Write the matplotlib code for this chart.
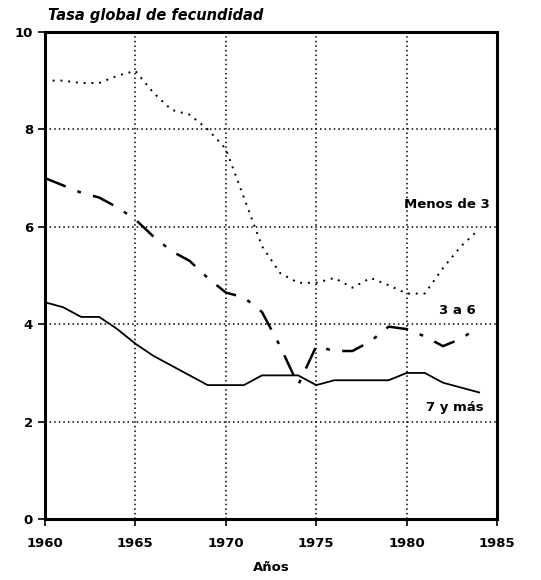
import matplotlib
matplotlib.use("Agg")
import matplotlib.pyplot as plt

years = list(range(1960, 1985))

menos_de_3 = [9.0, 9.0, 8.95, 8.95, 9.1, 9.2, 8.75, 8.4, 8.3, 8.0, 7.6, 6.6,
              5.6, 5.05, 4.85, 4.85, 4.95, 4.75, 4.95, 4.8, 4.63, 4.63, 5.15,
              5.6, 5.95]
tres_a_6 = [7.0, 6.85, 6.7, 6.6, 6.4, 6.15, 5.8, 5.5, 5.3, 4.95, 4.65, 4.55,
            4.25, 3.55, 2.75, 3.55, 3.45, 3.45, 3.65, 3.95, 3.9, 3.75, 3.55,
            3.7, 3.95]
siete_y_mas = [4.45, 4.35, 4.15, 4.15, 3.9, 3.6, 3.35, 3.15, 2.95, 2.75, 2.75,
               2.75, 2.95, 2.95, 2.95, 2.75, 2.85, 2.85, 2.85, 2.85, 3.0, 3.0,
               2.8, 2.7, 2.6]

xticks = [1960, 1965, 1970, 1975, 1980, 1985]
yticks = [0, 2, 4, 6, 8, 10]

plt.rcParams['font.family'] = ['DejaVu Sans']

fig = plt.figure(figsize=(5.41, 5.8), dpi=100, facecolor='white')
ax = fig.add_axes([0.083, 0.105, 0.836, 0.84])

ax.plot(years, menos_de_3, color='black', linestyle=(0, (1, 3)), lw=1.4)
ax.plot(years, tres_a_6, color='black', linestyle=(0, (9, 5, 1.5, 5)), lw=1.8)
ax.plot(years, siete_y_mas, color='black', linestyle='-', lw=1.3)

ax.set_xlim(1960, 1985)
ax.set_ylim(0, 10)
ax.set_xticks(xticks)
ax.set_yticks(yticks)
ax.grid(True, color='black', linestyle=(0, (1, 2)), lw=1.1)
ax.tick_params(axis='both', direction='out', length=5, width=1.2,
               labelsize=9.5)
ax.tick_params(axis='x', pad=8)
for lab in ax.get_xticklabels() + ax.get_yticklabels():
    lab.set_fontweight('bold')
for sp in ax.spines.values():
    sp.set_linewidth(2.2)

ax.text(1984.6, 6.45, 'Menos de 3', ha='right', va='center',
        fontsize=9.5, fontweight='bold')
ax.text(1982.8, 4.28, '3 a 6', ha='center', va='center',
        fontsize=9.5, fontweight='bold')
ax.text(1982.65, 2.3, '7 y más', ha='center', va='center',
        fontsize=9.5, fontweight='bold')

ax.set_xlabel('Años', fontsize=9.5, fontweight='bold', labelpad=8)
fig.text(0.089, 0.973, 'Tasa global de fecundidad', fontsize=10.5,
         fontweight='bold', fontstyle='italic', ha='left', va='center')

fig.savefig('out.png', dpi=100)
